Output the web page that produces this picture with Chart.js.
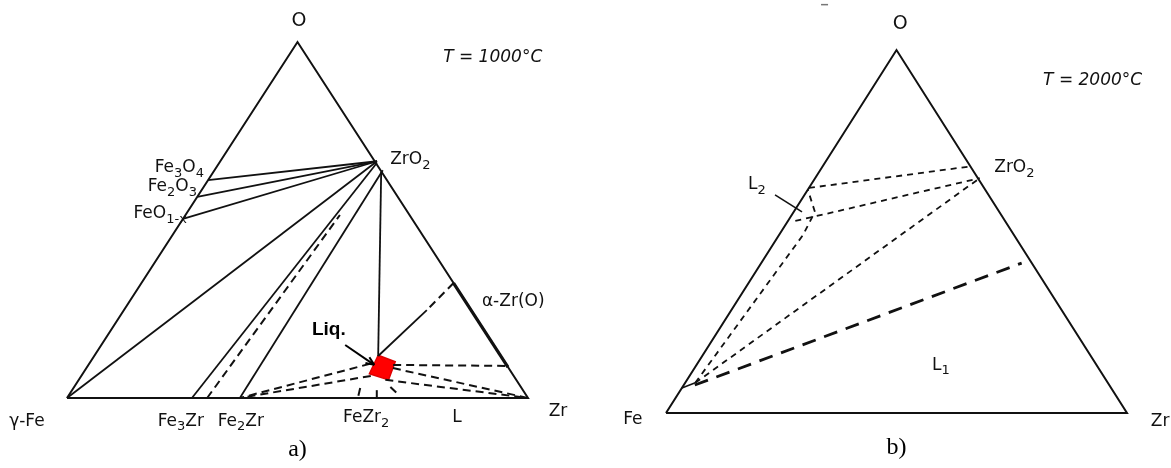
<!DOCTYPE html>
<html lang="en">
<head>
<meta charset="UTF-8">
<title>Fe-Zr-O isothermal sections</title>
<script src="https://cdn.jsdelivr.net/npm/chart.js@4.4.1/dist/chart.umd.min.js"></script>
<style>
  * { margin: 0; padding: 0; box-sizing: border-box; }
  body { background: #fff; width: 1171px; height: 468px; position: relative; overflow: hidden; }
  canvas { position: absolute; top: 0; }
  #chartA { left: 0; }
  #chartB { left: 585px; }
</style>
</head>
<body>
<canvas id="chartA" width="585" height="468"></canvas>
<canvas id="chartB" width="586" height="468"></canvas>
<script>
  // all compositions are [Zr, O] mole fractions (Fe = rest)
  const corners = [[0, 0], [1, 0], [0, 1], [0, 0]];   // Fe, Zr, O

  // a) T = 1000 C
  const solidA = [
    [[0.34, 0.665], [0, 0.612]],      // ZrO2 - Fe3O4
    [[0.34, 0.665], [0, 0.565]],      // ZrO2 - Fe2O3
    [[0.34, 0.665], [0, 0.503]],      // ZrO2 - FeO1-x
    [[0.34, 0.665], [0, 0]],          // ZrO2 - gamma-Fe
    [[0.342, 0.66], [0.271, 0]],      // ZrO2 - Fe3Zr
    [[0.365, 0.64], [0.375, 0]],      // ZrO2 - Fe2Zr
    [[0.364, 0.635], [0.616, 0.118]], // ZrO2 - liquid
    [[0.657, 0.247], [0.616, 0.118]]
  ];
  const dashedA = [
    [[0.304, 0], [0.335, 0.514]],
    [[0.677, 0.323], [0.657, 0.247]],
    [[0.609, 0.096], [0.375, 0]],
    [[0.628, 0.062], [0.375, 0]],
    [[0.661, 0.093], [0.91, 0.09]],
    [[0.665, 0.084], [1, 0]],
    [[0.665, 0.051], [1, 0]],
    [[0.622, 0.028], [0.631, 0]],
    [[0.661, 0.022], [0.672, 0]],
    [[0.686, 0.031], [0.719, 0.006]]
  ];
  const alphaZrA = [[0.677, 0.323], [0.913, 0.087]];
  const liquidA = [[0.615, 0.12], [0.661, 0.102], [0.672, 0.051], [0.622, 0.068], [0.615, 0.12]];
  const liqArrowA = [[0.529, 0.149], [0.62, 0.093]];

  // b) T = 2000 C
  const solidB = [
    [[0, 0.069], [0.022, 0.083]],
    [[-0.064, 0.601], [0.018, 0.554]]  // L2 pointer
  ];
  const dashedB = [
    [[0, 0.62], [0.324, 0.68]],
    [[0.016, 0.529], [0.357, 0.647]],
    [[0.022, 0.083], [0.357, 0.647]],
    [[0.022, 0.083], [0.052, 0.49], [0.046, 0.554], [0.001, 0.614]]
  ];
  const boldDashB = [[0.024, 0.077], [0.565, 0.413]];

  // labels: text, x, y in triangle units (x = Zr + O/2, y = O)
  const labelsA = [
    ["O", 0.503, 1.059, "center"],
    ["ZrO_2", 0.701, 0.67, "left"],
    ["Fe_3O_4", 0.297, 0.646, "right"],
    ["Fe_2O_3", 0.282, 0.593, "right"],
    ["FeO_{1-x}", 0.26, 0.517, "right"],
    ["α-Zr(O)", 0.9, 0.27, "left"],
    ["γ-Fe", -0.087, -0.065, "center"],
    ["Fe_3Zr", 0.247, -0.065, "center"],
    ["Fe_2Zr", 0.377, -0.065, "center"],
    ["FeZr_2", 0.649, -0.056, "center"],
    ["L", 0.846, -0.056, "center"],
    ["Zr", 1.065, -0.039, "center"]
  ];
  const labelsB = [
    ["O", 0.508, 1.072, "center"],
    ["ZrO_2", 0.712, 0.675, "left"],
    ["L_2", 0.178, 0.628, "left"],
    ["L_1", 0.577, 0.132, "left"],
    ["Fe", -0.072, -0.019, "center"],
    ["Zr", 1.072, -0.025, "center"]
  ];

  const ink = "#111";
  const family = "'DejaVu Sans', sans-serif";

  function tern(p) {
    return { x: p[0] + p[1] / 2, y: p[1] };
  }

  function line(pts, width, dash) {
    return {
      data: pts.map(tern),
      showLine: true,
      pointRadius: 0,
      borderColor: ink,
      borderWidth: width,
      borderDash: dash || [],
      fill: false,
      clip: false,
      tension: 0
    };
  }

  function drawRich(ctx, str, x, y, size, align, style) {
    const parts = [];
    const re = /_\{([^}]*)\}|_(.)|([^_]+)/g;
    let m;
    while ((m = re.exec(str)) !== null) {
      if (m[1] !== undefined) parts.push([m[1], true]);
      else if (m[2] !== undefined) parts.push([m[2], true]);
      else parts.push([m[3], false]);
    }
    const big = style + " " + size + "px " + family;
    const small = style + " " + Math.round(size * 0.75) + "px " + family;
    let total = 0;
    parts.forEach(p => { ctx.font = p[1] ? small : big; total += ctx.measureText(p[0]).width; });
    let cx = align === "left" ? x : align === "right" ? x - total : x - total / 2;
    ctx.textAlign = "left";
    ctx.textBaseline = "middle";
    parts.forEach(p => {
      ctx.font = p[1] ? small : big;
      ctx.fillText(p[0], cx, p[1] ? y + size * 0.35 : y);
      cx += ctx.measureText(p[0]).width;
    });
  }

  const textPlugin = {
    id: "ternaryText",
    afterDatasetsDraw(chart, args, opts) {
      const ctx = chart.ctx;
      const xs = chart.scales.x, ys = chart.scales.y;
      const px = v => xs.getPixelForValue(v);
      const py = v => ys.getPixelForValue(v);
      ctx.save();
      ctx.fillStyle = ink;
      opts.labels.forEach(l => drawRich(ctx, l[0], px(l[1]), py(l[2]), l[0] === "O" ? 19 : 17, l[3], "normal"));
      // temperature
      drawRich(ctx, opts.temp, px(opts.tempAt[0]), py(opts.tempAt[1]), 17, "left", "italic");
      // panel letter
      ctx.font = "24px 'Liberation Serif', serif";
      ctx.textAlign = "center";
      ctx.textBaseline = "middle";
      ctx.fillStyle = "#000";
      ctx.fillText(opts.panel, px(0.5), py(opts.panelY));
      if (opts.arrow) {
        const a = tern(opts.arrow[0]), b = tern(opts.arrow[1]);
        const x1 = px(a.x), y1 = py(a.y), x2 = px(b.x), y2 = py(b.y);
        ctx.strokeStyle = "#000";
        ctx.lineWidth = 2;
        ctx.beginPath();
        ctx.moveTo(x1, y1);
        ctx.lineTo(x2, y2);
        ctx.stroke();
        const ang = Math.atan2(y2 - y1, x2 - x1);
        ctx.beginPath();
        ctx.moveTo(x2, y2);
        ctx.lineTo(x2 - 9 * Math.cos(ang - 0.4), y2 - 9 * Math.sin(ang - 0.4));
        ctx.moveTo(x2, y2);
        ctx.lineTo(x2 - 9 * Math.cos(ang + 0.4), y2 - 9 * Math.sin(ang + 0.4));
        ctx.stroke();
        ctx.font = "bold 19px 'Liberation Sans', sans-serif";
        ctx.fillText("Liq.", px(0.568), py(0.191));
      }
      if (opts.speck) {
        ctx.fillStyle = "#777";
        ctx.fillRect(px(0.345) - 4, py(1.127), 7, 1.5);
      }
      ctx.restore();
    }
  };

  function makeChart(id, datasets, pad, opts) {
    return new Chart(id, {
      type: "scatter",
      data: { datasets: datasets },
      options: {
        responsive: false,
        animation: false,
        layout: { padding: pad },
        scales: {
          x: { type: "linear", min: 0, max: 1, display: false },
          y: { type: "linear", min: 0, max: 1, display: false }
        },
        plugins: {
          legend: { display: false },
          tooltip: { enabled: false },
          ternaryText: opts
        }
      },
      plugins: [textPlugin]
    });
  }

  // panel a)
  const dsA = [line(corners, 2)];
  solidA.forEach(s => dsA.push(line(s, 1.8)));
  dashedA.forEach(s => dsA.push(line(s, 2, [8, 5])));
  dsA.push(line(alphaZrA, 3.2));
  dsA.push({
    data: liquidA.map(tern), showLine: true, pointRadius: 0, borderColor: "#e00000",
    borderWidth: 1.5, backgroundColor: "#ff0000", fill: "shape", clip: false, tension: 0
  });

  makeChart("chartA", dsA, { left: 67, right: 57, top: 42, bottom: 70 }, {
    labels: labelsA, temp: "T = 1000°C", tempAt: [0.816, 0.955],
    panel: "a)", panelY: -0.146, arrow: liqArrowA
  });

  // panel b)
  const dsB = [line(corners, 2)];
  solidB.forEach(s => dsB.push(line(s, 1.6)));
  dashedB.forEach(s => dsB.push(line(s, 1.8, [6, 5])));
  dsB.push(line(boldDashB, 2.8, [14, 9]));

  makeChart("chartB", dsB, { left: 81, right: 44, top: 50, bottom: 55 }, {
    labels: labelsB, temp: "T = 2000°C", tempAt: [0.818, 0.917],
    panel: "b)", panelY: -0.096, speck: true
  });
</script>
</body>
</html>
